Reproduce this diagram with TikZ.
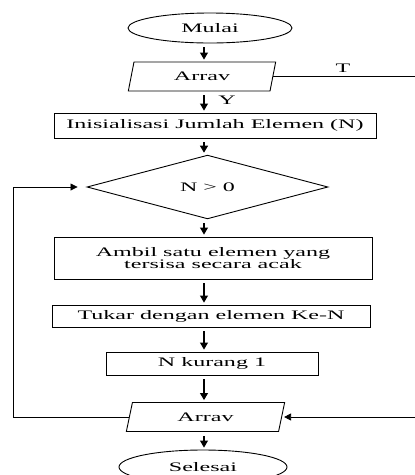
\documentclass[tikz,border=0pt]{standalone}
\usepackage{fontspec}
\setmainfont{Liberation Serif}[FakeStretch=1.85]
\usetikzlibrary{shapes.geometric,arrows.meta}
\begin{document}
\begin{tikzpicture}[x=1pt,y=-1pt,
  every node/.style={font=\fontsize{13}{11}\selectfont, inner sep=0pt},
  box/.style={draw, line width=0.9pt, rectangle},
  term/.style={draw, line width=0.9pt, ellipse},
  io/.style={draw, line width=0.9pt, trapezium, trapezium left angle=75, trapezium right angle=105, trapezium stretches=true},
  dec/.style={draw, line width=0.9pt, diamond},
  arr/.style={line width=1.1pt, -{Triangle[length=7pt,width=8pt]}, shorten <=4pt, shorten >=2pt},
  ln/.style={line width=0.8pt}]
\useasboundingbox (0,0) rectangle (415,475);
\clip (0,0) rectangle (415,475);
\coordinate (ax) at (204,0);
\node[term, minimum width=164pt, minimum height=30pt] (start) at (210,28) {Mulai};
\node[io, minimum width=148pt, minimum height=29pt] (in1) at (202,76.5) {Arrav};
\node[box, minimum width=322pt, minimum height=25pt] (init) at (215,125.5) {Inisialisasi Jumlah Elemen (N)};
\node[dec, minimum width=241pt, minimum height=44pt] (cond) at (207.5,187) {N > 0};
\node[box, minimum width=318pt, minimum height=42pt, align=center] (ambil) at (213,258) {Ambil satu elemen yang\\tersisa secara acak};
\node[box, minimum width=318pt, minimum height=22pt] (tukar) at (211,316) {Tukar dengan elemen Ke-N};
\node[box, minimum width=212pt, minimum height=23pt] (kur) at (212,363.5) {N kurang 1};
\node[io, minimum width=159pt, minimum height=29pt] (in2) at (205.5,417) {Arrav};
\node[term, minimum width=168pt, minimum height=34pt] (stop) at (203,467) {Selesai};
\node (lY) at (227,100) {Y};
\node (lT) at (343,68) {T};
\coordinate (rR) at (415,0);
\coordinate (lL) at (13,0);
\draw[arr] (start.south -| ax) -- (in1.north -| ax);
\draw[arr] (in1.south -| ax) -- (init.north -| ax);
\draw[arr] (init.south -| ax) -- (cond.north -| ax);
\draw[arr] (cond.south -| ax) -- (ambil.north -| ax);
\draw[arr] (ambil.south -| ax) -- (tukar.north -| ax);
\draw[arr] (tukar.south -| ax) -- (kur.north -| ax);
\draw[arr] (kur.south -| ax) -- (in2.north -| ax);
\draw[arr] (in2.south -| ax) -- (stop.north -| ax);
\draw[ln] (in1.east) -- (in1.east -| rR);
\draw[ln, -{Triangle[length=7pt,width=7pt]}, shorten >=2pt] (in2.east -| rR) -- (in2.east);
\draw[ln, -{Triangle[length=7pt,width=7pt]}, shorten >=9pt] (in2.west) -- (in2.west -| lL) -- (cond.west -| lL) -- (cond.west);
\end{tikzpicture}
\end{document}
